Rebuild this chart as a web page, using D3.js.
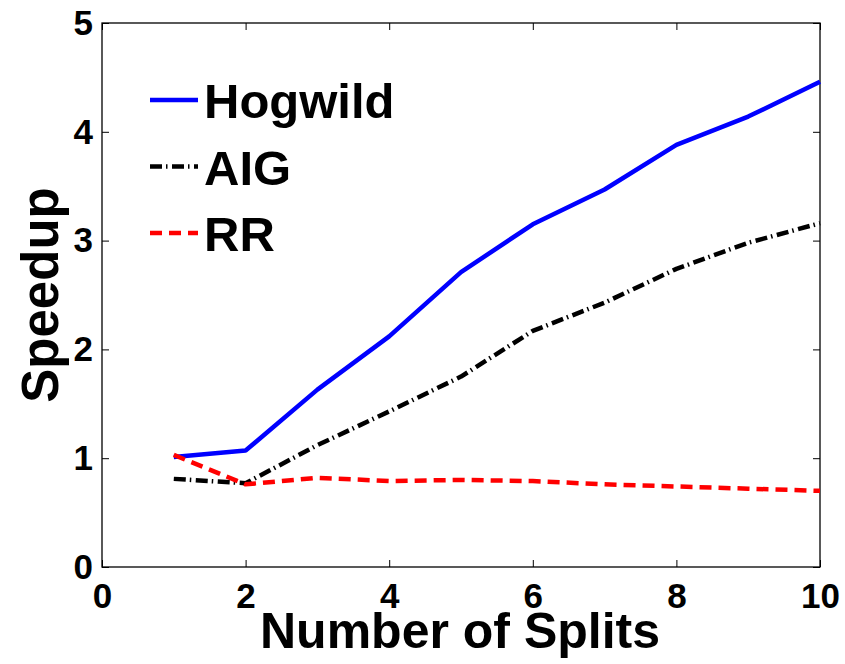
<!DOCTYPE html>
<html>
<head>
<meta charset="utf-8">
<script src="https://cdn.jsdelivr.net/npm/d3@7"></script>
<style>
  body { margin: 0; background: #fff; }
  text { font-family: "Liberation Sans", Arial, Helvetica, sans-serif; font-weight: bold; fill: #000; }
</style>
</head>
<body>
<svg id="chart"></svg>
<script>

// data
var splits = [1, 2, 3, 4, 5, 6, 7, 8, 9, 10];
var hogwild = [1.01, 1.07, 1.63, 2.12, 2.71, 3.15, 3.47, 3.88, 4.14, 4.46];
var aig = [0.81, 0.77, 1.12, 1.43, 1.75, 2.17, 2.43, 2.74, 2.98, 3.16];
var rr = [1.03, 0.76, 0.82, 0.79, 0.80, 0.79, 0.76, 0.74, 0.72, 0.70];
var xTicks = [0, 2, 4, 6, 8, 10];
var yTicks = [0, 1, 2, 3, 4, 5];
var seriesNames = ['Hogwild', 'AIG', 'RR'];

var width = 845, height = 664;
var margin = {top: 23, right: 25, bottom: 97, left: 102};

var svg = d3.select('#chart')
    .attr('width', width)
    .attr('height', height);

var x = d3.scaleLinear().domain([0, 10]).range([margin.left, width - margin.right]);
var y = d3.scaleLinear().domain([0, 5]).range([height - margin.bottom, margin.top]);

var styles = [
    {color: '#0000ff', dash: null},
    {color: '#000000', dash: '12,4,1.5,4.5'},
    {color: '#ff0000', dash: '12,7'}
];
var allSeries = [hogwild, aig, rr];

// box
svg.append('rect')
    .attr('x', x(0)).attr('y', y(5))
    .attr('width', x(10) - x(0)).attr('height', y(0) - y(5))
    .attr('fill', 'none').attr('stroke', '#000').attr('stroke-width', 1.3);

// axes, ticks pointing inwards
svg.append('g')
    .attr('transform', 'translate(0,' + y(0) + ')')
    .call(d3.axisBottom(x).tickValues(xTicks).tickFormat(d3.format('d'))
        .tickSizeInner(-7).tickSizeOuter(0).tickPadding(16));
svg.append('g')
    .attr('transform', 'translate(' + x(0) + ',0)')
    .call(d3.axisLeft(y).tickValues(yTicks).tickFormat(d3.format('d'))
        .tickSizeInner(-7).tickSizeOuter(0).tickPadding(9));
svg.append('g')
    .attr('transform', 'translate(0,' + y(5) + ')')
    .call(d3.axisTop(x).tickValues(xTicks).tickSizeInner(-7).tickSizeOuter(0).tickFormat(''));
svg.append('g')
    .attr('transform', 'translate(' + x(10) + ',0)')
    .call(d3.axisRight(y).tickValues(yTicks).tickSizeInner(-7).tickSizeOuter(0).tickFormat(''));

svg.selectAll('.domain').remove();
svg.selectAll('.tick line').attr('stroke', '#000').attr('stroke-width', 1);
svg.selectAll('.tick text')
    .style('font-size', '35px')
    .style('font-family', '"Liberation Sans", Arial, sans-serif')
    .style('font-weight', 'bold')
    .attr('fill', '#000');

// lines
var line = d3.line()
    .x(function (d, i) { return x(splits[i]); })
    .y(function (d) { return y(d); });

allSeries.forEach(function (s, i) {
    svg.append('path')
        .datum(s)
        .attr('fill', 'none')
        .attr('stroke', styles[i].color)
        .attr('stroke-width', 4.5)
        .attr('stroke-dasharray', styles[i].dash)
        .attr('stroke-linejoin', 'round')
        .attr('d', line);
});

// legend
var legend = svg.append('g');
seriesNames.forEach(function (name, i) {
    var ly = 100 + i * 66.5;
    legend.append('line')
        .attr('x1', 150).attr('x2', 198)
        .attr('y1', ly).attr('y2', ly)
        .attr('stroke', styles[i].color)
        .attr('stroke-width', 4.5)
        .attr('stroke-dasharray', styles[i].dash);
    legend.append('text')
        .attr('x', 204).attr('y', ly + 18)
        .style('font-size', '49px')
        .text(name);
});

// axis titles
svg.append('text')
    .attr('x', 460).attr('y', 648)
    .attr('text-anchor', 'middle')
    .style('font-size', '50px')
    .text('Number of Splits');

svg.append('text')
    .attr('transform', 'translate(58,' + ((y(0) + y(5)) / 2) + ') rotate(-90)')
    .attr('text-anchor', 'middle')
    .style('font-size', '51px')
    .text('Speedup');

</script>
</body>
</html>
